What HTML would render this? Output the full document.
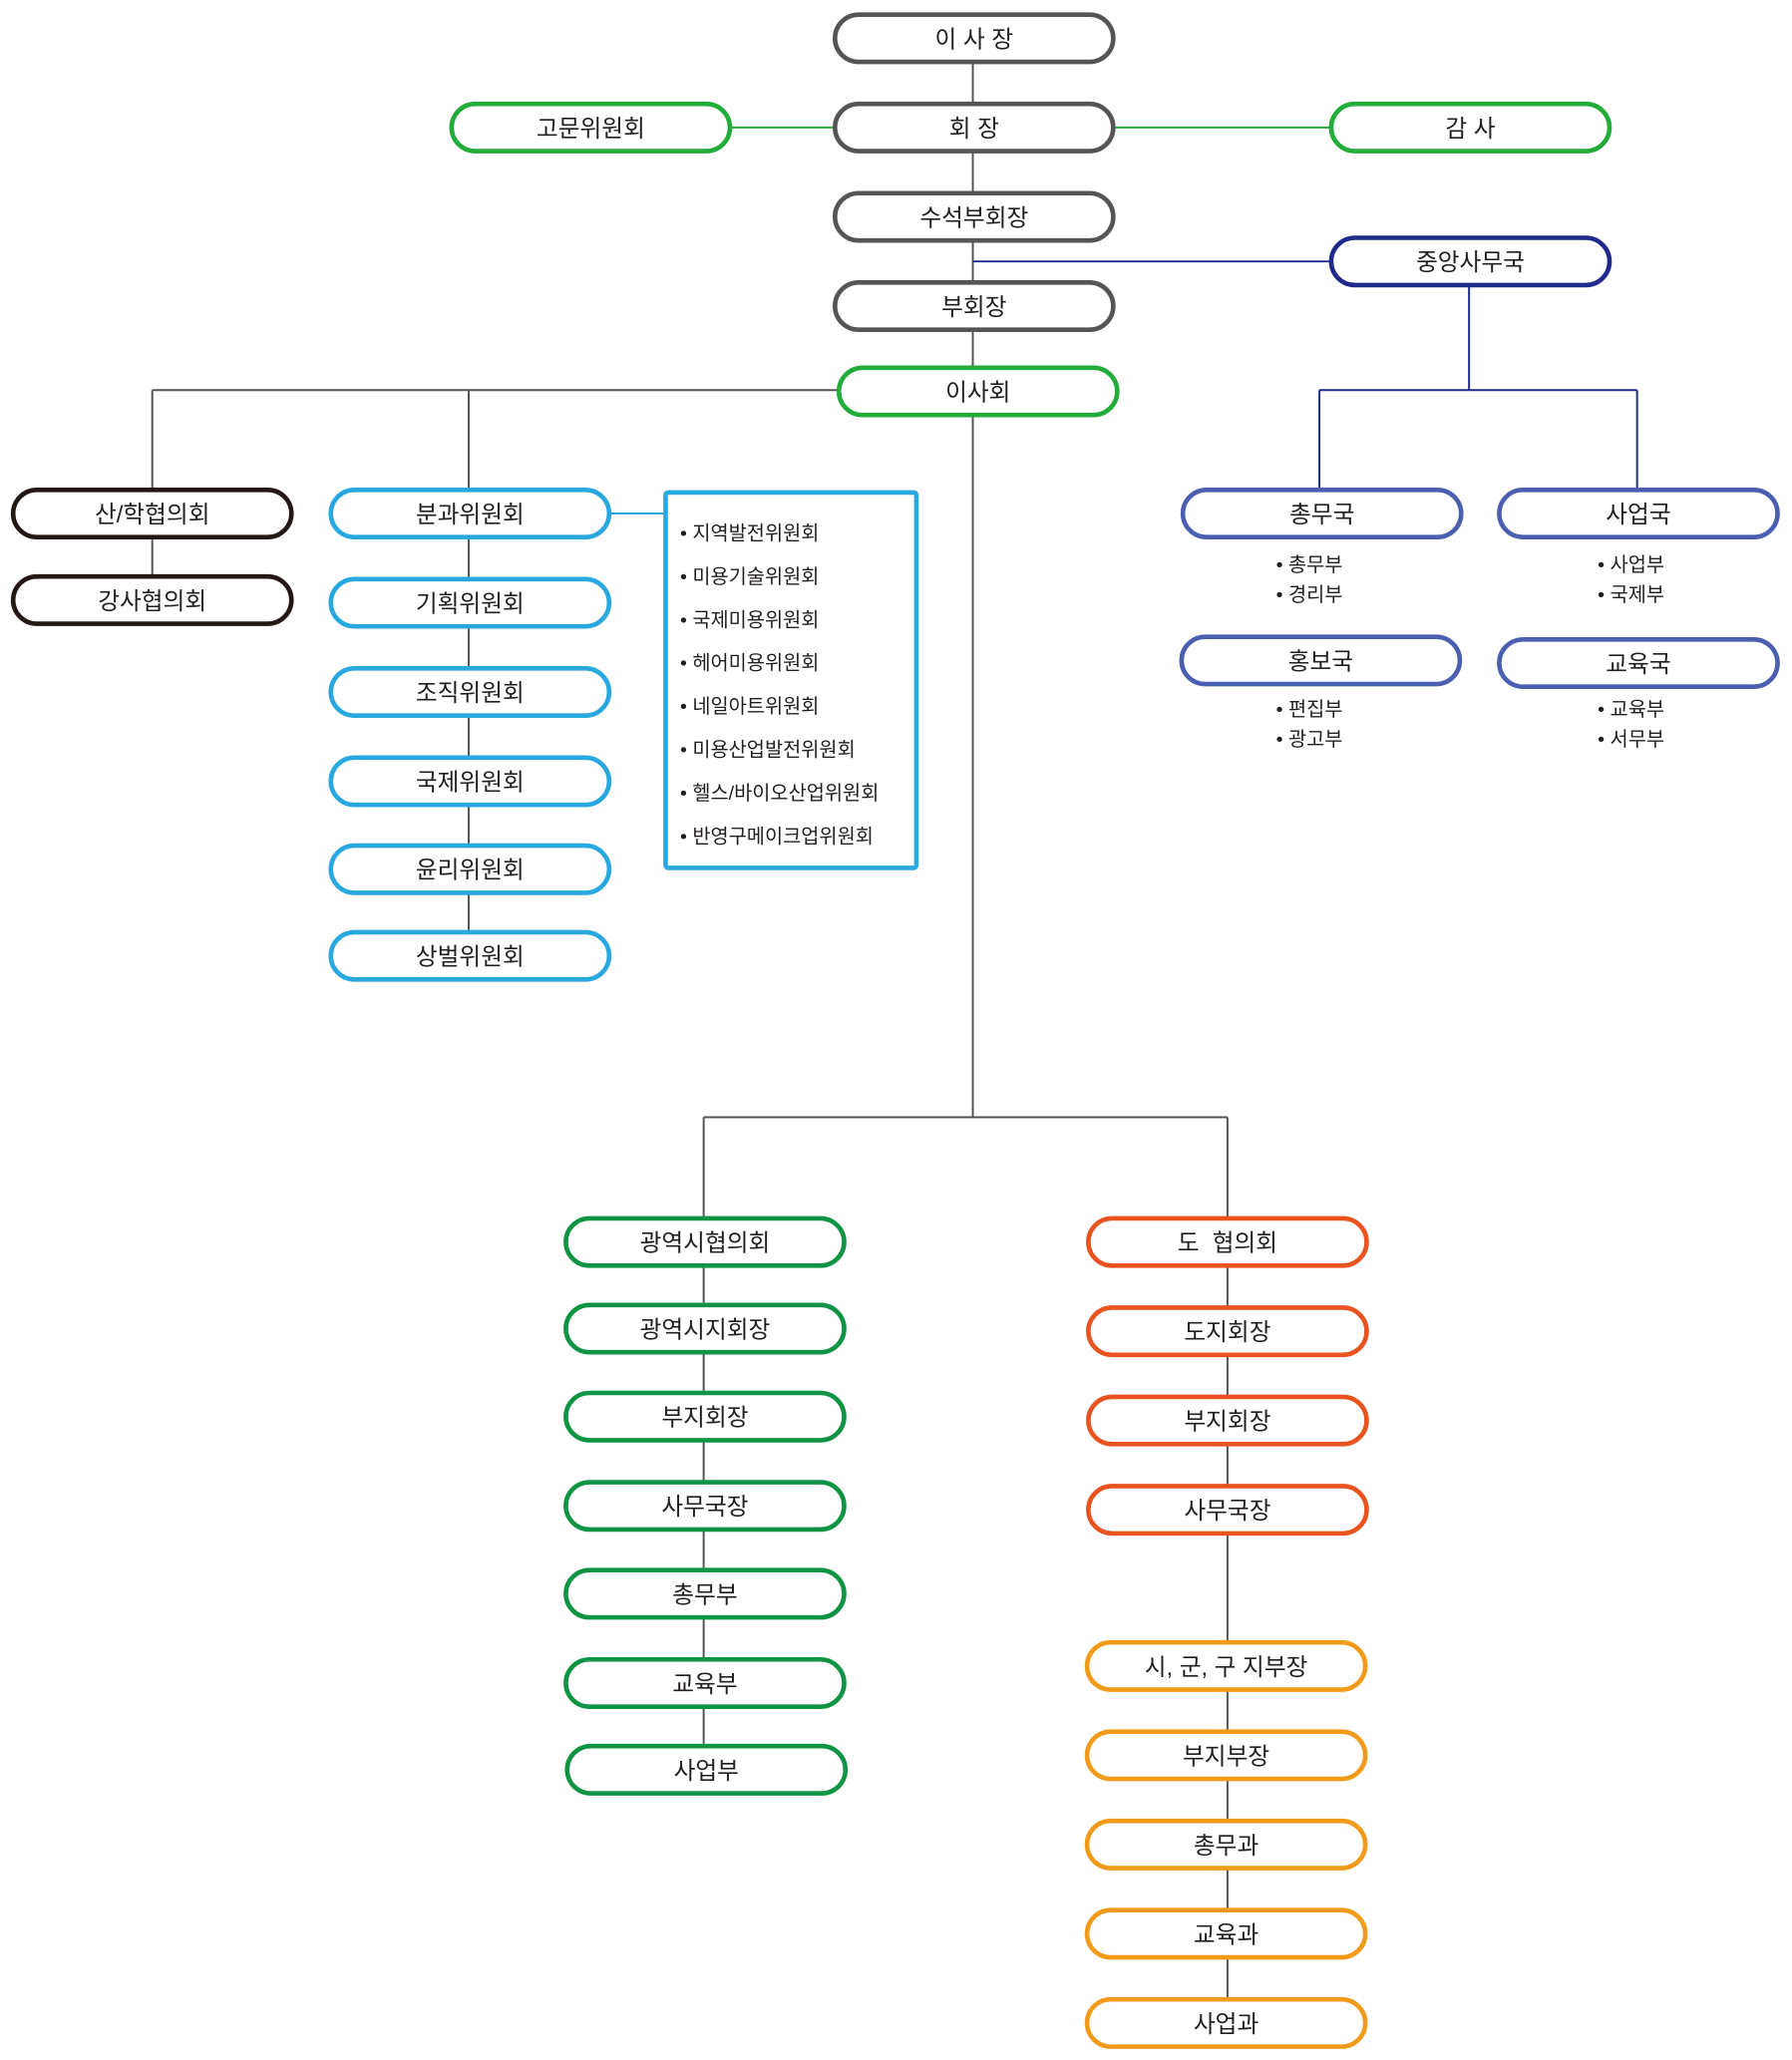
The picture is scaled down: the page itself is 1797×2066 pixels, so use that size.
<!DOCTYPE html>
<html><head><meta charset="utf-8"><style>
html,body{margin:0;padding:0;background:#fff;}
svg{display:block}
text{font-family:"Liberation Sans","Noto Sans CJK KR",sans-serif;fill:#231f20}
.b{font-size:18px;text-anchor:middle;dominant-baseline:central}
.s{font-size:15px;dominant-baseline:central}
</style></head><body>
<svg width="1797" height="2066" viewBox="0 0 1365 1569" xmlns="http://www.w3.org/2000/svg">
<g fill="none" stroke-width="1.5">
<path stroke="#555" d="M741 47V280M741 316V851M536 851H935M536 851V928M935 851V928M116 297H639M116 297V373M357 297V373M116 409V439M357 409V710M536 964V1330M935 964V1251M935 1287V1523"/>
<path stroke="#2aa640" d="M556 97H636M848 97H1014"/>
<path stroke="#1f2a8a" d="M741 199H1014M1119 217V297M1005 297H1247M1005 297V373M1247 297V373"/>
<path stroke="#29a8e0" d="M464 391H507"/>
</g>
<g fill="#fff" stroke-width="3.5">
<g stroke="#555">
<rect x="636" y="11" width="212" height="36" rx="18"/>
<rect x="636" y="79" width="212" height="36" rx="18"/>
<rect x="636" y="147" width="212" height="36" rx="18"/>
<rect x="636" y="215" width="212" height="36" rx="18"/>
</g>
<g stroke="#22ac3a">
<rect x="344" y="79" width="212" height="36" rx="18"/>
<rect x="1014" y="79" width="212" height="36" rx="18"/>
<rect x="639" y="280" width="212" height="36" rx="18"/>
</g>
<rect stroke="#1f2a8a" x="1014" y="181" width="212" height="36" rx="18"/>
<g stroke="#4a5fb0">
<rect x="901" y="373" width="212" height="36" rx="18"/>
<rect x="1142" y="373" width="212" height="36" rx="18"/>
<rect x="900" y="485" width="212" height="36" rx="18"/>
<rect x="1142" y="487" width="212" height="36" rx="18"/>
</g>
<g stroke="#231815">
<rect x="10" y="373" width="212" height="36" rx="18"/>
<rect x="10" y="439" width="212" height="36" rx="18"/>
</g>
<g stroke="#29a8e0">
<rect x="252" y="373" width="212" height="36" rx="18"/>
<rect x="252" y="441" width="212" height="36" rx="18"/>
<rect x="252" y="509" width="212" height="36" rx="18"/>
<rect x="252" y="577" width="212" height="36" rx="18"/>
<rect x="252" y="644" width="212" height="36" rx="18"/>
<rect x="252" y="710" width="212" height="36" rx="18"/>
<rect x="507" y="375" width="191" height="286" rx="2"/>
</g>
<g stroke="#0f9444">
<rect x="431" y="928" width="212" height="36" rx="18"/>
<rect x="431" y="994" width="212" height="36" rx="18"/>
<rect x="431" y="1061" width="212" height="36" rx="18"/>
<rect x="431" y="1129" width="212" height="36" rx="18"/>
<rect x="431" y="1196" width="212" height="36" rx="18"/>
<rect x="431" y="1264" width="212" height="36" rx="18"/>
<rect x="432" y="1330" width="212" height="36" rx="18"/>
</g>
<g stroke="#e8531f">
<rect x="829" y="928" width="212" height="36" rx="18"/>
<rect x="829" y="996" width="212" height="36" rx="18"/>
<rect x="829" y="1064" width="212" height="36" rx="18"/>
<rect x="829" y="1132" width="212" height="36" rx="18"/>
</g>
<g stroke="#f29b1a">
<rect x="828" y="1251" width="212" height="36" rx="18"/>
<rect x="828" y="1319" width="212" height="36" rx="18"/>
<rect x="828" y="1387" width="212" height="36" rx="18"/>
<rect x="828" y="1455" width="212" height="36" rx="18"/>
<rect x="828" y="1523" width="212" height="36" rx="18"/>
</g>
</g>
<g transform="translate(0,1.5)">
<text class="b" x="742" y="29">이 사 장</text>
<text class="b" x="742" y="97">회 장</text>
<text class="b" x="742" y="165">수석부회장</text>
<text class="b" x="742" y="233">부회장</text>
<text class="b" x="450" y="97">고문위원회</text>
<text class="b" x="1120" y="97">감 사</text>
<text class="b" x="745" y="298">이사회</text>
<text class="b" x="1120" y="199">중앙사무국</text>
<text class="b" x="1007" y="391">총무국</text>
<text class="b" x="1248" y="391">사업국</text>
<text class="b" x="1006" y="503">홍보국</text>
<text class="b" x="1248" y="505">교육국</text>
<text class="b" x="116" y="391">산/학협의회</text>
<text class="b" x="116" y="457">강사협의회</text>
<text class="b" x="358" y="391">분과위원회</text>
<text class="b" x="358" y="459">기획위원회</text>
<text class="b" x="358" y="527">조직위원회</text>
<text class="b" x="358" y="595">국제위원회</text>
<text class="b" x="358" y="662">윤리위원회</text>
<text class="b" x="358" y="728">상벌위원회</text>
<text class="b" x="537" y="946">광역시협의회</text>
<text class="b" x="537" y="1012">광역시지회장</text>
<text class="b" x="537" y="1079">부지회장</text>
<text class="b" x="537" y="1147">사무국장</text>
<text class="b" x="537" y="1214">총무부</text>
<text class="b" x="537" y="1282">교육부</text>
<text class="b" x="538" y="1348">사업부</text>
<text class="b" x="935" y="946">도&#160;&#160;협의회</text>
<text class="b" x="935" y="1014">도지회장</text>
<text class="b" x="935" y="1082">부지회장</text>
<text class="b" x="935" y="1150">사무국장</text>
<text class="b" x="934" y="1269">시, 군, 구 지부장</text>
<text class="b" x="934" y="1337">부지부장</text>
<text class="b" x="934" y="1405">총무과</text>
<text class="b" x="934" y="1473">교육과</text>
<text class="b" x="934" y="1541">사업과</text>
<text class="s" x="518" y="405">• 지역발전위원회</text>
<text class="s" x="518" y="438">• 미용기술위원회</text>
<text class="s" x="518" y="471">• 국제미용위원회</text>
<text class="s" x="518" y="504">• 헤어미용위원회</text>
<text class="s" x="518" y="537">• 네일아트위원회</text>
<text class="s" x="518" y="570">• 미용산업발전위원회</text>
<text class="s" x="518" y="603">• 헬스/바이오산업위원회</text>
<text class="s" x="518" y="636">• 반영구메이크업위원회</text>
<text class="s" x="972" y="429">• 총무부</text>
<text class="s" x="972" y="452">• 경리부</text>
<text class="s" x="1217" y="429">• 사업부</text>
<text class="s" x="1217" y="452">• 국제부</text>
<text class="s" x="972" y="539">• 편집부</text>
<text class="s" x="972" y="562">• 광고부</text>
<text class="s" x="1217" y="539">• 교육부</text>
<text class="s" x="1217" y="562">• 서무부</text>
</g>
</svg>
</body></html>
